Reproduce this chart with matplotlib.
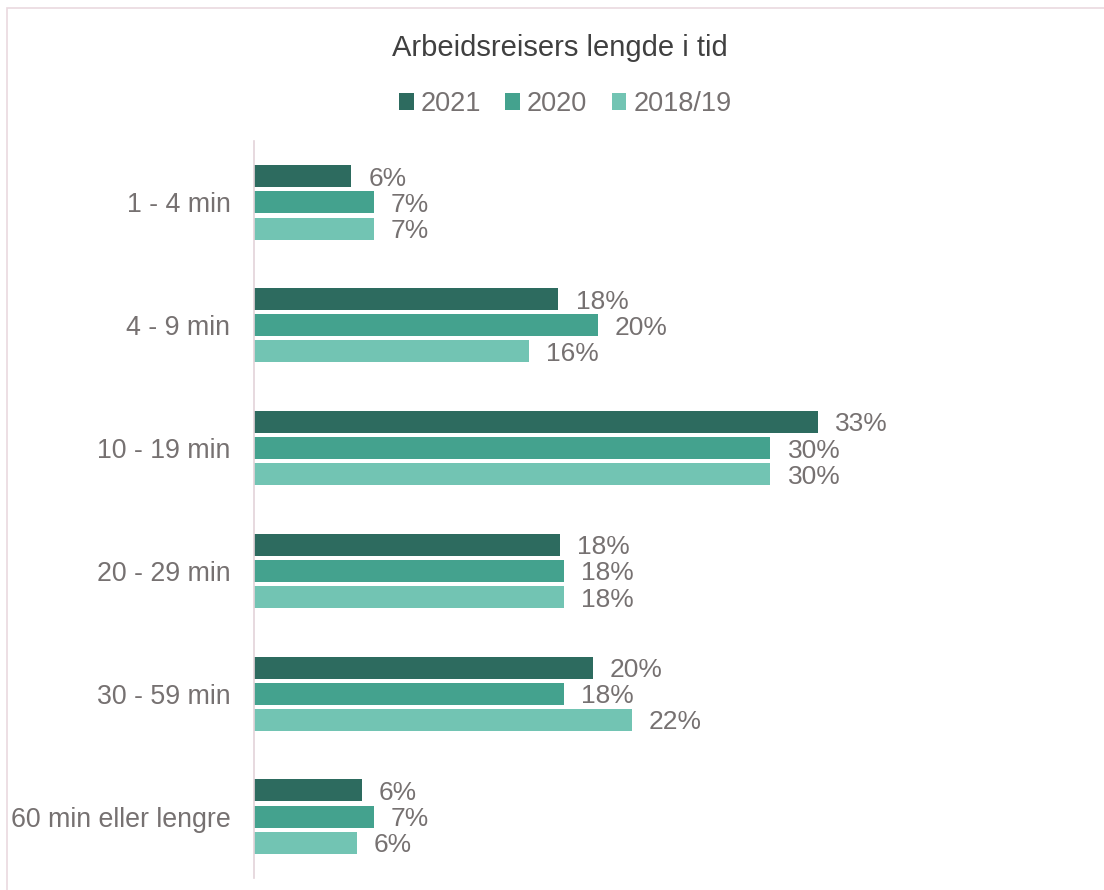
import matplotlib.pyplot as plt
import numpy as np
from matplotlib.patches import Rectangle, Patch

plt.rcParams['font.family'] = ['Liberation Sans', 'DejaVu Sans']

categories = ['1 - 4 min', '4 - 9 min', '10 - 19 min', '20 - 29 min',
              '30 - 59 min', '60 min eller lengre']
series = ['2021', '2020', '2018/19']
v2021 = [5.7, 17.8, 33.0, 17.9, 19.8, 6.3]
v2020 = [7.0, 20.1, 30.2, 18.1, 18.1, 7.0]
v2018 = [7.0, 16.1, 30.2, 18.1, 22.1, 6.0]
labels2021 = ['6%', '18%', '33%', '18%', '20%', '6%']
labels2020 = ['7%', '20%', '30%', '18%', '18%', '7%']
labels2018 = ['7%', '16%', '30%', '18%', '22%', '6%']

colors = ['#2D6B5F', '#44A28E', '#72C4B3']
txt = '#767171'

fig = plt.figure(figsize=(11.04, 8.9), dpi=100)
# chart border
fig.patches.append(Rectangle((7 / 1104, -0.01), 1.1, (890 - 8) / 890 + 0.01,
                             transform=fig.transFigure, fill=False,
                             edgecolor='#EAD9DF', linewidth=1.2))

ax = fig.add_axes([254 / 1104, 12 / 890, 826 / 1104, 737 / 890])

y = np.arange(len(categories))
h = 0.18
step = 0.213
data = [(v2021, labels2021), (v2020, labels2020), (v2018, labels2018)]
for i, ((vals, labs), c) in enumerate(zip(data, colors)):
    pos = y + (i - 1) * step
    ax.barh(pos, vals, height=h, color=c)
    for p, v, l in zip(pos, vals, labs):
        ax.text(v + 1.0, p + 0.02, l, va='center', ha='left', fontsize=19,
                color=txt)

ax.set_ylim(len(categories) - 0.5, -0.5)
ax.set_xlim(0, 48.3)
ax.set_yticks(y)
ax.set_yticklabels(categories, fontsize=19.3, color=txt)
ax.tick_params(axis='y', length=0, pad=17)
ax.set_xticks([])
for s in ['top', 'right', 'bottom']:
    ax.spines[s].set_visible(False)
ax.spines['left'].set_color('#E3D3D9')
ax.spines['left'].set_linewidth(1.2)

fig.text(560 / 1104, 1 - 48 / 890, 'Arbeidsreisers lengde i tid', ha='center',
         va='center', fontsize=21, color='#404040')

handles = [Patch(facecolor=c, edgecolor='none') for c in colors]
fig.legend(handles, series, loc='center', bbox_to_anchor=(565 / 1104, 1 - 104 / 890),
           ncol=3, frameon=False, fontsize=19.5, labelcolor=txt,
           handlelength=0.55, handleheight=0.55, handletextpad=0.25,
           columnspacing=0.9)

fig.savefig('out.png', dpi=100, facecolor='white')
